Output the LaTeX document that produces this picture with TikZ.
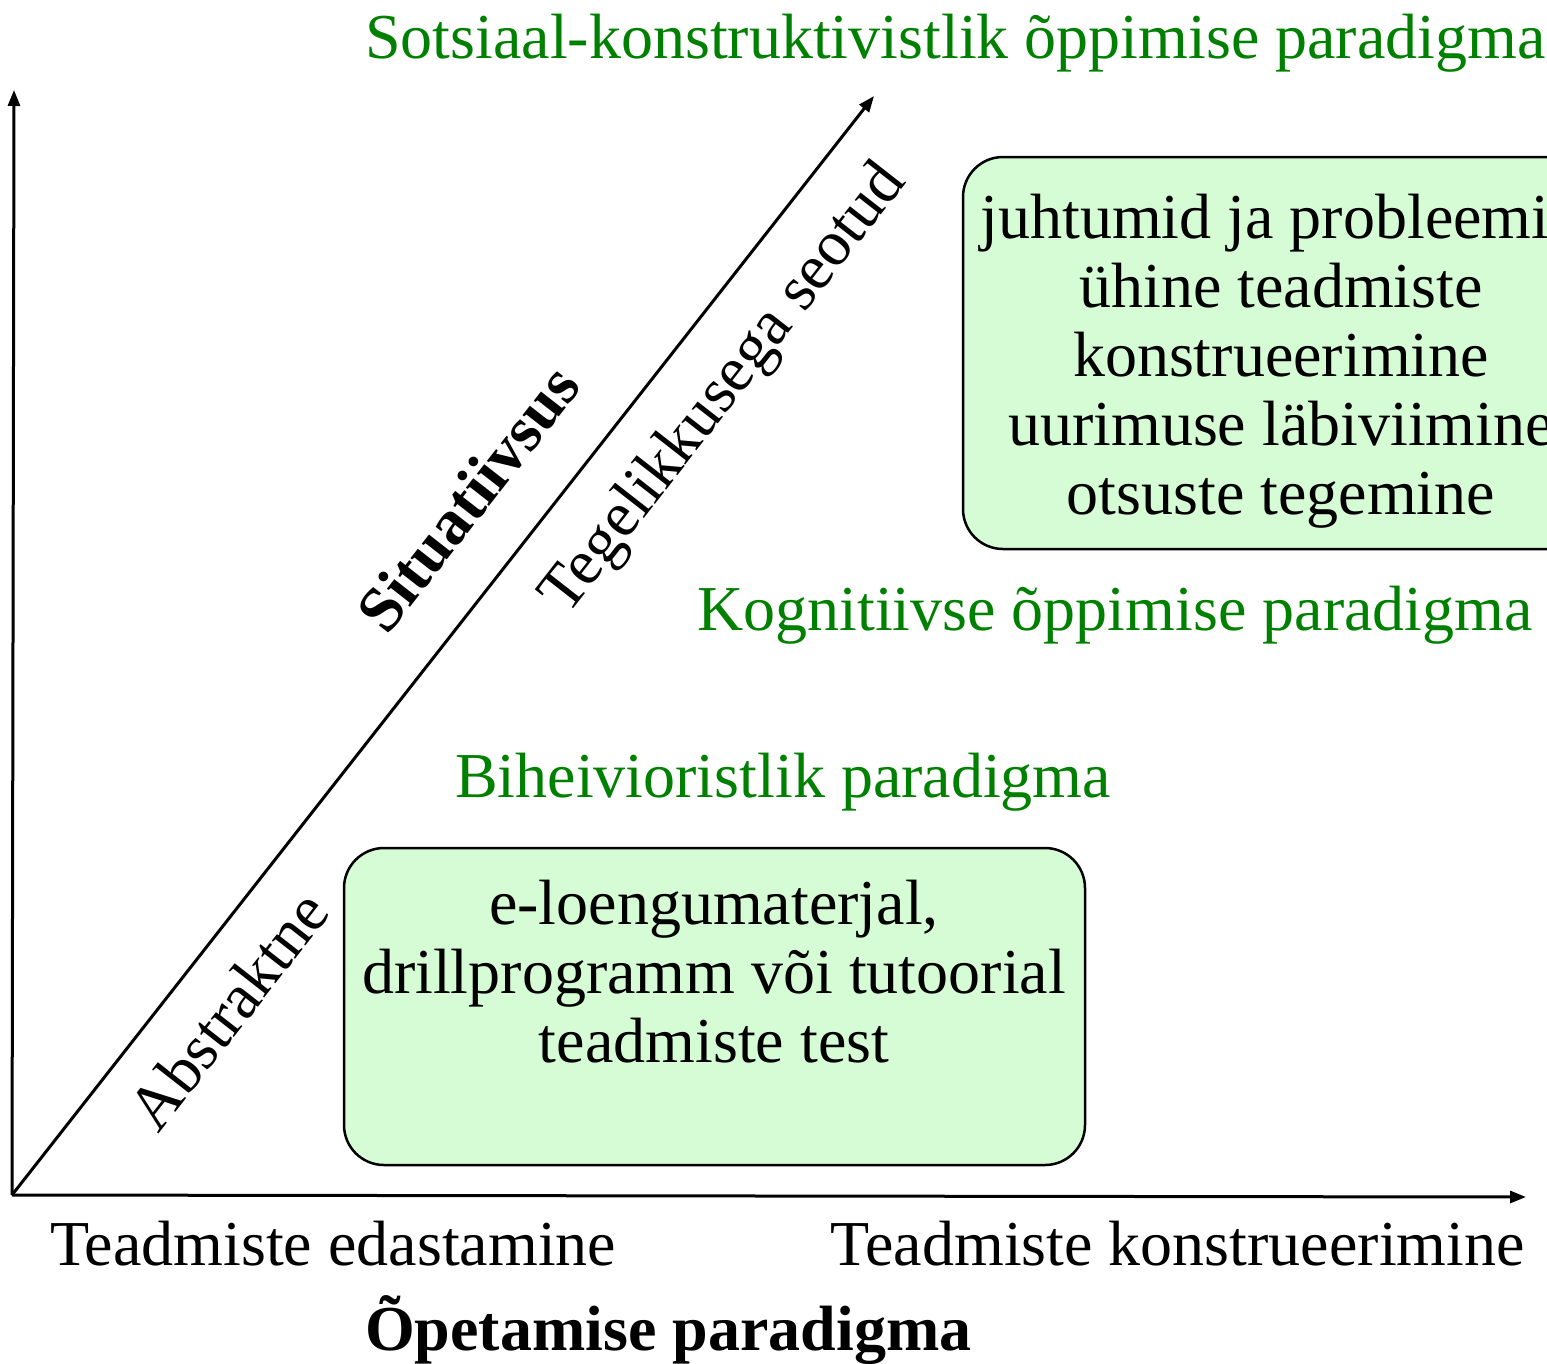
\documentclass[tikz,border=0pt]{standalone}
\usepackage{fontspec}
\setmainfont{Liberation Serif}
\usetikzlibrary{arrows.meta}
\definecolor{paragreen}{RGB}{0,128,0}
\definecolor{boxgreen}{RGB}{213,252,213}
\tikzset{
  lbl/.style={inner sep=0pt, font=\fontsize{64}{69}\selectfont},
  para/.style={lbl, text=paragreen},
  axis/.style={line width=3pt, -{Triangle[length=16pt,width=12pt]}},
  pbox/.style={draw, line width=2.5pt, fill=boxgreen, rounded corners=40pt, inner sep=0pt},
}
\begin{document}
\begin{tikzpicture}[x=1pt,y=-1pt]
\useasboundingbox (0,0) rectangle (1547,1363);
% axes
\coordinate (o) at (12,1195);
\coordinate (ytop) at (14,90);
\coordinate (xend) at (1526,1197);
\coordinate (dend) at (874,96);
\draw[axis] (o) -- (ytop);
\draw[axis] (o) -- (xend);
\draw[axis] (o) -- (dend);
% paradigms
\node[para, anchor=base west] (sots) at (365,58) {Sotsiaal-konstruktivistlik õppimise paradigma};
\node[para, anchor=base west] (kogn) at (697,630) {Kognitiivse õppimise paradigma};
\node[para, anchor=base west] (biheiv) at (455,797) {Biheivioristlik paradigma};
% boxes
\node[pbox, minimum width=636pt, minimum height=392pt] (socbox) at (1281,353) {};
\node[lbl, align=center, anchor=north] (soctext) at (1281,194) {juhtumid ja probleemid\\ühine teadmiste\\konstrueerimine\\uurimuse läbiviimine\\otsuste tegemine};
\node[pbox, minimum width=741pt, minimum height=317pt] (behbox) at (714.5,1006.5) {};
\node[lbl, align=center, anchor=north] (behtext) at (714,880) {e-loengumaterjal,\\drillprogramm või tutoorial\\teadmiste test};
% diagonal labels
\node[lbl, font=\fontsize{64}{69}\selectfont\bfseries, rotate=52] (sit) at (468,498) {Situatiivsus};
\node[lbl, rotate=52] (teg) at (725,390) {Tegelikkusega seotud};
\node[lbl, rotate=52] (abs) at (228,1010) {Abstraktne};
% axis labels
\node[lbl, anchor=base west] (edast) at (50,1265) {Teadmiste edastamine};
\node[lbl, anchor=base east] (konstr) at (1525,1265) {Teadmiste konstrueerimine};
\node[lbl, font=\fontsize{64}{69}\selectfont\bfseries, anchor=base west] (opet) at (365,1350) {Õpetamise paradigma};
\end{tikzpicture}
\end{document}
